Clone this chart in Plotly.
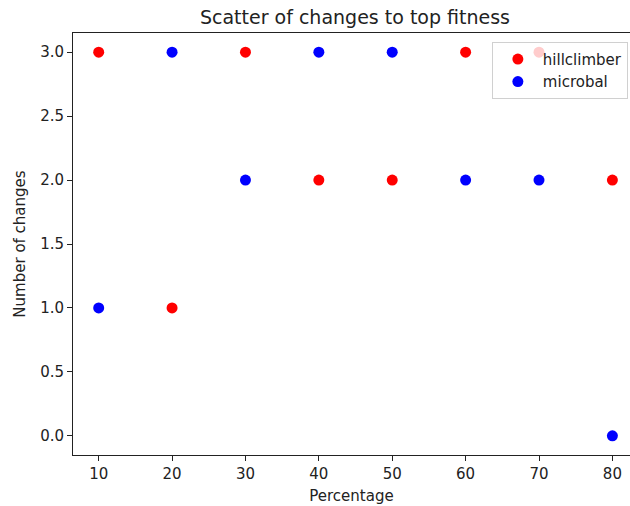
import plotly.graph_objects as go

percentages = [10, 20, 30, 40, 50, 60, 70, 80]
hillclimber = [3, 1, 3, 2, 2, 3, 3, 2]
microbal = [1, 3, 2, 3, 3, 2, 2, 0]
x_ticks = [10, 20, 30, 40, 50, 60, 70, 80]
y_ticks = [0.0, 0.5, 1.0, 1.5, 2.0, 2.5, 3.0]

W, H = 630, 506
L, R, T, B = 73, 0, 33, 51

fig = go.Figure()
fig.add_trace(go.Scatter(x=percentages, y=hillclimber, mode="markers", name="hillclimber",
                         marker=dict(color="#ff0000", size=11, line=dict(width=0))))
fig.add_trace(go.Scatter(x=percentages, y=microbal, mode="markers", name="microbal",
                         marker=dict(color="#0000ff", size=11, line=dict(width=0))))

font = "DejaVu Sans, sans-serif"
fs = 15
axis_common = dict(showgrid=False, zeroline=False, showline=True, linecolor="#222",
                   linewidth=1, ticks="outside", ticklen=5, tickcolor="#222", tickwidth=1,
                   tickfont=dict(family=font, size=fs, color="#222"))

fig.update_layout(
    width=W, height=H,
    margin=dict(l=L, r=R, t=T, b=B, pad=0),
    paper_bgcolor="white", plot_bgcolor="white",
    font=dict(family=font, color="#222"),
    title=dict(text="Scatter of changes to top fitness", x=355 / W, xanchor="center",
               y=1 - 17 / H, yanchor="middle", yref="container",
               font=dict(family=font, size=19, color="#222")),
    xaxis=dict(range=[6.5, 82.4], tickvals=x_ticks, ticktext=[str(v) for v in x_ticks],
               mirror=True,
               title=dict(text="Percentage", standoff=8, font=dict(family=font, size=fs, color="#222")),
               **axis_common),
    yaxis=dict(range=[-0.15, 3.15], tickvals=y_ticks, ticktext=[f"{v:.1f}" for v in y_ticks],
               title=dict(text="Number of changes", standoff=10, font=dict(family=font, size=fs, color="#222")),
               **axis_common),
    legend=dict(x=0.752, y=0.979, xanchor="left", yanchor="top",
                bgcolor="rgba(255,255,255,0.8)", bordercolor="#d0d0d0", borderwidth=1,
                font=dict(family=font, size=fs, color="#222"), tracegroupgap=0,
                itemwidth=40),
    showlegend=True,
)

fig.write_html("out.html")
